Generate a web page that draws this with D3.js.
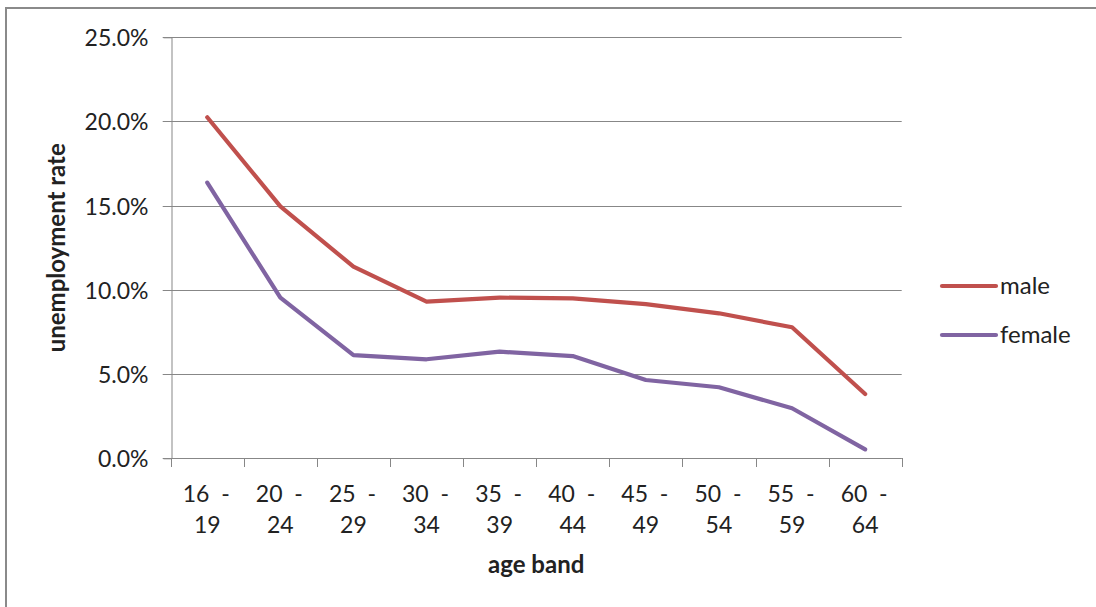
<!DOCTYPE html>
<html>
<head>
<meta charset="utf-8">
<script src="https://cdn.jsdelivr.net/npm/d3@7"></script>
<style>
  html, body { margin: 0; padding: 0; background: #fff; }
  svg { display: block; }
  text { font-family: Lato, "Open Sans", sans-serif; fill: #222; }
</style>
</head>
<body>
<svg id="chart" width="1096" height="607"></svg>
<script>
// ---- data ----
const categories = ["16 - 19", "20 - 24", "25 - 29", "30 - 34", "35 - 39", "40 - 44", "45 - 49", "50 - 54", "55 - 59", "60 - 64"];
const male   = [0.2025, 0.1496, 0.1138, 0.0930, 0.0954, 0.0950, 0.0916, 0.0861, 0.0778, 0.0382];
const female = [0.1637, 0.0954, 0.0613, 0.0588, 0.0633, 0.0607, 0.0465, 0.0422, 0.0297, 0.0053];
const yTicks = [0, 0.05, 0.10, 0.15, 0.20, 0.25];
const seriesNames = ["male", "female"];
const seriesColors = ["#C0504D", "#8064A2"];

// ---- layout ----
const svg = d3.select("#chart");
const plotL = 170.7, plotR = 901.7, plotT = 37.3, plotB = 458.3;
const gridColor = "#878787";
const labelSize = 23, titleSize = 24, legendSize = 24;

// outer frame (extends past right/bottom edge)
svg.append("rect").attr("x", 6).attr("y", 8).attr("width", 1200).attr("height", 700)
  .attr("fill", "none").attr("stroke", "#8a8a8a").attr("stroke-width", 2);

const x = d3.scaleBand().domain(categories).range([plotL, plotR]).paddingInner(0).paddingOuter(0);
const y = d3.scaleLinear().domain([0, 0.25]).range([plotB, plotT]);

// gridlines
svg.append("g").selectAll("line").data(yTicks).join("line")
  .attr("x1", plotL - 8).attr("x2", plotR)
  .attr("y1", d => Math.round(y(d)) + 0.5).attr("y2", d => Math.round(y(d)) + 0.5)
  .attr("stroke", gridColor).attr("stroke-width", 1);

// y axis
const yAxis = d3.axisLeft(y).tickValues(yTicks).tickFormat(d3.format(".1%")).tickSize(8).tickPadding(15);
const gy = svg.append("g").attr("transform", `translate(${Math.round(plotL) + 0.5},0)`).call(yAxis);
gy.select(".domain").attr("stroke", gridColor);
gy.selectAll(".tick line").attr("stroke", gridColor);
gy.selectAll(".tick").attr("transform", d => `translate(0,${Math.round(y(d)) + 0.5})`);
gy.selectAll(".tick text").attr("font-family", "Lato").attr("font-size", labelSize).attr("fill", "#222").attr("dy", "0.36em");

// x axis: ticks at category boundaries
const boundaries = categories.map(c => x(c)).concat([plotR]);
const gx = svg.append("g");
gx.append("line").attr("x1", plotL).attr("x2", plotR)
  .attr("y1", Math.round(plotB) + 0.5).attr("y2", Math.round(plotB) + 0.5)
  .attr("stroke", gridColor);
gx.selectAll("line.tk").data(boundaries).join("line").attr("class", "tk")
  .attr("x1", d => Math.round(d) + 0.5).attr("x2", d => Math.round(d) + 0.5)
  .attr("y1", Math.round(plotB)).attr("y2", Math.round(plotB) + 9)
  .attr("stroke", gridColor);
const lbl = gx.selectAll("text.cat").data(categories).join("text").attr("class", "cat")
  .attr("text-anchor", "middle").attr("font-size", labelSize).attr("fill", "#222")
  .attr("x", d => x(d) + x.bandwidth() / 2).attr("y", 502)
  .style("white-space", "pre");
lbl.append("tspan").attr("x", d => x(d) + x.bandwidth() / 2 - 1).text(d => d.split(" - ")[0] + "  -");
lbl.append("tspan").attr("x", d => x(d) + x.bandwidth() / 2).attr("dy", 31).text(d => d.split(" - ")[1]);

// axis titles
svg.append("text").attr("x", (plotL + plotR) / 2).attr("y", 573).attr("text-anchor", "middle")
  .attr("font-weight", "bold").attr("font-size", titleSize).attr("fill", "#111").text("age band");
svg.append("text").attr("transform", `translate(65,${(plotT + plotB) / 2}) rotate(-90)`)
  .attr("text-anchor", "middle").attr("font-weight", "bold").attr("font-size", titleSize).attr("fill", "#111")
  .text("unemployment rate");

// lines
const line = d3.line().x((d, i) => x(categories[i]) + x.bandwidth() / 2).y(d => y(d));
[male, female].forEach((s, k) => {
  svg.append("path").datum(s).attr("d", line).attr("fill", "none")
    .attr("stroke", seriesColors[k]).attr("stroke-width", 4.2)
    .attr("stroke-linejoin", "round").attr("stroke-linecap", "round");
});

// legend
const legendY = [286, 335];
seriesNames.forEach((n, k) => {
  svg.append("line").attr("x1", 942).attr("x2", 996).attr("y1", legendY[k]).attr("y2", legendY[k])
    .attr("stroke", seriesColors[k]).attr("stroke-width", 4.2).attr("stroke-linecap", "round");
  svg.append("text").attr("x", 1000).attr("y", legendY[k] + 8).attr("font-size", legendSize).attr("fill", "#222").text(n);
});
</script>
</body>
</html>
